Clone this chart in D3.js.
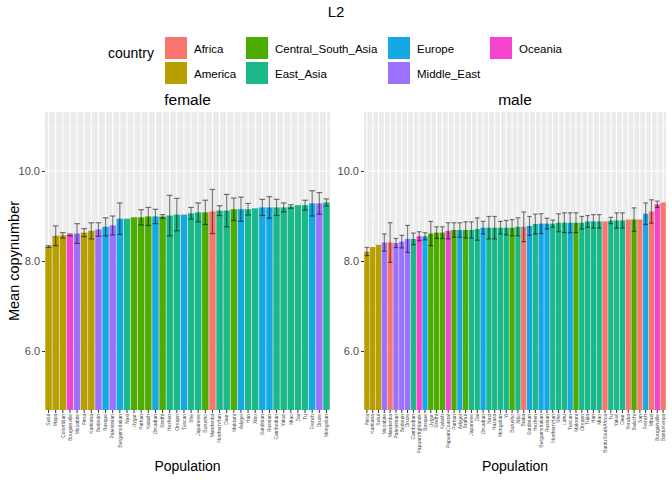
<!DOCTYPE html>
<html><head><meta charset="utf-8">
<script src="https://cdn.jsdelivr.net/npm/d3@7"></script>
<style>body{margin:0;background:#fff}svg{font-family:"Liberation Sans",Arial,sans-serif}</style>
</head><body><svg id="c" width="672" height="480"></svg>
<script>
const regions = ["Africa","America","Central_South_Asia","East_Asia","Europe","Middle_East","Oceania"];
const regionColors = ["#F8766D","#B79F00","#4DAC00","#1BB98A","#14A8E5","#9A72FF","#F444CF"];

const femalePop = ["Surui","Maya","Colombian","Bougainville","Mozabite","Pima","Karitiana","Bedouin","Basque","Palestinian","BergamoItalian","Naxi","Uygur","Pathan","Kalash","Orcadian","Sindhi","Hezhen","Oroqen","Tuscan","She","Japanese","Burusho","Mandenka","NorthernHan","Daur","Makrani","Adygei","Han","Xibo","Sardinian","Russian","Cambodian","Yakut","Miao","Dai","Tu","French","Druze","Mongolian"];
const femaleRegion = ["America","America","America","Oceania","Middle_East","America","America","Middle_East","Europe","Middle_East","Europe","East_Asia","Central_South_Asia","Central_South_Asia","Central_South_Asia","Europe","Central_South_Asia","East_Asia","East_Asia","Europe","East_Asia","East_Asia","Central_South_Asia","Africa","East_Asia","East_Asia","Central_South_Asia","Europe","East_Asia","East_Asia","Europe","Europe","East_Asia","East_Asia","East_Asia","East_Asia","East_Asia","Europe","Middle_East","East_Asia"];
const femaleMean = [8.32,8.56,8.57,8.58,8.61,8.63,8.67,8.70,8.76,8.79,8.94,8.94,8.97,8.97,8.99,8.99,8.99,9.01,9.03,9.03,9.06,9.08,9.08,9.10,9.12,9.12,9.15,9.15,9.15,9.17,9.19,9.19,9.19,9.19,9.21,9.24,9.24,9.28,9.28,9.30];
const femaleSE = [0.02,0.22,0.06,0.02,0.22,0.09,0.18,0.15,0.20,0.21,0.35,0,0,0.17,0.20,0.16,0.04,0.45,0.36,0,0.13,0.21,0.27,0.49,0.11,0.36,0.25,0.27,0.13,0,0.18,0.24,0.18,0.10,0.04,0,0.11,0.28,0.24,0.08];

const malePop = ["Pima","Karitiana","Surui","Mozabite","Mandenka","Palestinian","Bedouin","Druze","Cambodian","PapuanHighlands","Basque","Uygur","Sindhi","Kalash","PapuanCoastal","Pathan","Adygei","Brahui","Japanese","Dai","Orcadian","Naxi","Hazara","Mongolian","Yi","Burusho","Xibo","Biaka","Sardinian","Hezhen","BergamoItalian","Russian","NorthernHan","She","Lahu","Tuscan","Makrani","Oroqen","Tujia","Han","Miao","BantuSouthAfrica","Tu","Yakut","Daur","Yoruba","Balochi","San","French","Mbuti","Bougainville","BantuKenya"];
const maleRegion = ["America","America","America","Middle_East","Africa","Middle_East","Middle_East","Middle_East","East_Asia","Oceania","Europe","Central_South_Asia","Central_South_Asia","Central_South_Asia","Oceania","Central_South_Asia","Europe","Central_South_Asia","East_Asia","East_Asia","Europe","East_Asia","East_Asia","East_Asia","East_Asia","Central_South_Asia","East_Asia","Africa","Europe","East_Asia","Europe","Europe","East_Asia","East_Asia","East_Asia","Europe","Central_South_Asia","East_Asia","East_Asia","East_Asia","East_Asia","Africa","East_Asia","East_Asia","East_Asia","Africa","Central_South_Asia","Africa","Europe","Africa","Oceania","Africa"];
const maleMean = [8.21,8.31,8.36,8.41,8.41,8.40,8.43,8.49,8.49,8.55,8.55,8.61,8.63,8.63,8.67,8.69,8.69,8.69,8.69,8.71,8.74,8.74,8.74,8.74,8.74,8.74,8.76,8.76,8.78,8.82,8.83,8.83,8.83,8.85,8.85,8.85,8.85,8.85,8.88,8.88,8.88,8.88,8.90,8.90,8.90,8.92,8.92,8.92,9.05,9.10,9.26,9.30];
const maleSE = [0.09,0,0,0.19,0.44,0.10,0.14,0.30,0.13,0.10,0.08,0.27,0.13,0.13,0.18,0.16,0.16,0.18,0.18,0.25,0.14,0.25,0.25,0.14,0.16,0.18,0.20,0.33,0.21,0.22,0.22,0.12,0.08,0.20,0.22,0.22,0.22,0.14,0.13,0.15,0.15,0,0.07,0.17,0.17,0,0.26,0,0.24,0.26,0.07,0];
const yTicks = [6,8,10];

const svg = d3.select("#c");
const color = d3.scaleOrdinal(regions, regionColors);
const y = d3.scaleLinear([4.69,11.31],[410,112]);

// title & legend
svg.append("text").attr("x",336).attr("y",17).attr("text-anchor","middle").attr("font-size",15).text("L2");
svg.append("text").attr("x",108).attr("y",58).attr("font-size",14).text("country");
const legPos = [[165,37],[165,62],[246,37],[246,62],[388,37],[388,62],[490,37]];
regions.forEach((r,i)=>{
  const [lx,ly]=legPos[i];
  svg.append("rect").attr("x",lx).attr("y",ly).attr("width",22).attr("height",22).attr("fill",color(r));
  svg.append("text").attr("x",lx+29).attr("y",ly+15.5).attr("font-size",11.5).text(r);
});

svg.append("text").attr("transform","translate(19,261) rotate(-90)").attr("text-anchor","middle").attr("font-size",14.5).text("Mean copynumber");

function panel(pop, reg, mean, se, x0, x1, title){
  const x = d3.scaleBand(pop,[x0,x1]).paddingInner(0.1).paddingOuter(0.05);
  const g = svg.append("g");
  g.append("rect").attr("x",x0).attr("y",112).attr("width",x1-x0).attr("height",298).attr("fill","#EBEBEB");
  [5,7,9,11].forEach(v=>g.append("line").attr("x1",x0).attr("x2",x1).attr("y1",y(v)).attr("y2",y(v)).attr("stroke","#fff").attr("stroke-width",0.5));
  yTicks.forEach(v=>g.append("line").attr("x1",x0).attr("x2",x1).attr("y1",y(v)).attr("y2",y(v)).attr("stroke","#fff").attr("stroke-width",1.1));
  pop.forEach(p=>g.append("line").attr("x1",x(p)+x.bandwidth()/2).attr("x2",x(p)+x.bandwidth()/2).attr("y1",112).attr("y2",410).attr("stroke","#fff").attr("stroke-width",1.1));
  g.selectAll(".bar").data(pop).join("rect")
    .attr("x",p=>x(p)).attr("width",x.bandwidth())
    .attr("y",(p,i)=>y(mean[i])).attr("height",(p,i)=>410-y(mean[i]))
    .attr("fill",(p,i)=>color(reg[i]));
  const cw = x.bandwidth()*0.9;
  pop.forEach((p,i)=>{
    if(!se[i]) return;
    const cx = x(p)+x.bandwidth()/2, lo=y(mean[i]-se[i]), hi=y(mean[i]+se[i]);
    const eg = g.append("g").attr("stroke","#000").attr("stroke-opacity",0.5).attr("stroke-width",1.2);
    eg.append("line").attr("x1",cx).attr("x2",cx).attr("y1",lo).attr("y2",hi);
    eg.append("line").attr("x1",cx-cw/2).attr("x2",cx+cw/2).attr("y1",lo).attr("y2",lo);
    eg.append("line").attr("x1",cx-cw/2).attr("x2",cx+cw/2).attr("y1",hi).attr("y2",hi);
  });
  const ya = g.append("g").attr("transform",`translate(${x0},0)`).call(d3.axisLeft(y).tickValues(yTicks).tickSize(3).tickPadding(2));
  ya.select(".domain").remove();
  ya.selectAll("line").attr("stroke","#333");
  ya.selectAll("text").attr("font-size",11).attr("fill","#4D4D4D").attr("font-family","Liberation Sans, Arial");
  const xa = g.append("g").attr("transform","translate(0,410)").call(d3.axisBottom(x).tickSize(3).tickPadding(1));
  xa.select(".domain").remove();
  xa.selectAll("line").attr("stroke","#333");
  xa.selectAll("text").attr("font-size",5).attr("fill","#4D4D4D").attr("font-family","Liberation Sans, Arial")
    .attr("text-anchor","end").attr("dy","0.35em").attr("transform","translate(0,4) rotate(-90)").attr("x",0).attr("y",0);
  const cx=(x0+x1)/2;
  svg.append("text").attr("x",cx).attr("y",105).attr("text-anchor","middle").attr("font-size",15.5).text(title);
  svg.append("text").attr("x",cx).attr("y",471).attr("text-anchor","middle").attr("font-size",14).text("Population");
}
panel(femalePop,femaleRegion,femaleMean,femaleSE,45,330,"female");
panel(malePop,maleRegion,maleMean,maleSE,364,666,"male");
</script></body></html>
